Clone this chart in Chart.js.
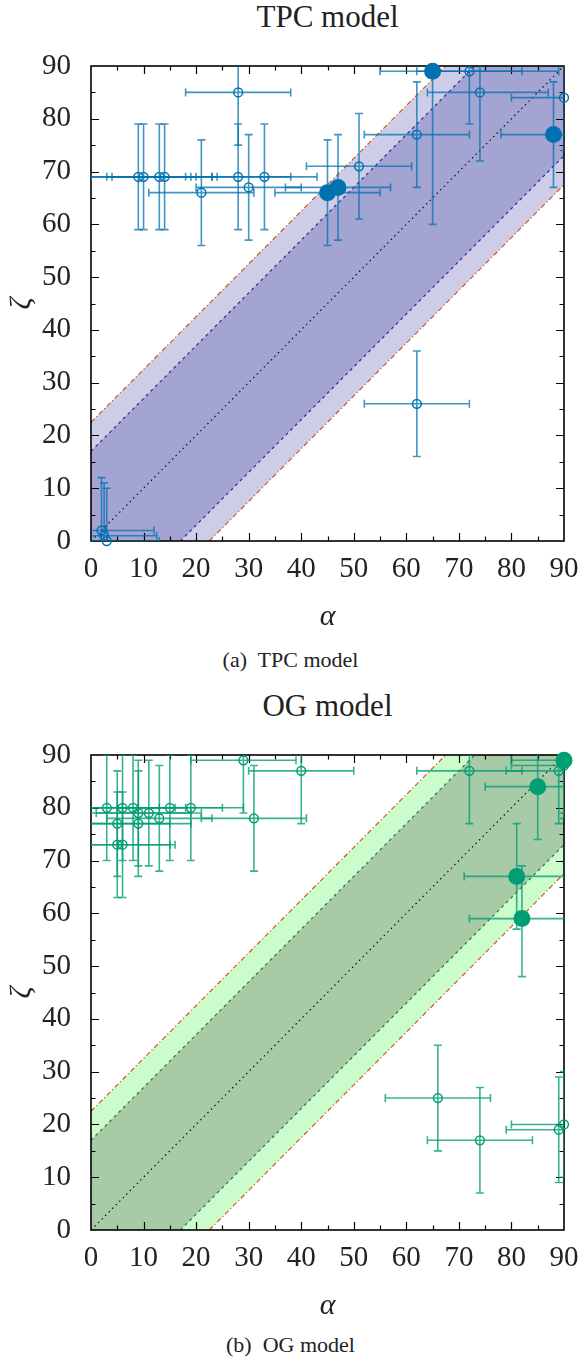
<!DOCTYPE html>
<html>
<head>
<meta charset="utf-8">
<script src="https://cdn.jsdelivr.net/npm/chart.js@4.4.1/dist/chart.umd.min.js"></script>
<style>
  body { margin: 0; background: #fff; width: 581px; height: 1365px; position: relative; overflow: hidden;
         font-family: "Liberation Serif", "DejaVu Serif", serif; color: #222; }
  .panel { position: absolute; left: 0; width: 581px; height: 640px; }
  .panel canvas { position: absolute; left: 0; top: 0; }
  .title { position: absolute; left: 91px; width: 473px; top: 0; text-align: center;
           font-family: "Liberation Serif", serif; font-size: 31px; line-height: 34px; }
  .caption { position: absolute; left: 0; width: 581px; text-align: center;
             font-family: "Liberation Serif", serif; font-size: 22px; line-height: 26px; }
</style>
</head>
<body>
<div class="panel" style="top:0">
  <div class="title">TPC model</div>
  <canvas id="tpcChart" width="581" height="640"></canvas>
</div>
<div class="caption" style="top:647px">(a)&nbsp; TPC model</div>
<div class="panel" style="top:689px">
  <div class="title">OG model</div>
  <canvas id="ogChart" width="581" height="640"></canvas>
</div>
<div class="caption" style="top:1332px">(b)&nbsp; OG model</div>

<script>
// band half-widths (degrees)
const innerBand = 17;
const outerBand = 22.5;

// boundary lines of the bands, as [alpha, zeta] pairs
const outerUpperLine = [[0, 22.5], [67.5, 90]];
const outerLowerLine = [[22.5, 0], [90, 67.5]];
const innerUpperLine = [[0, 17], [73, 90]];
const innerLowerLine = [[17, 0], [90, 73]];
const diagonalLine = [[0, 0], [90, 90]];

// TPC model, open points
const tpcOpenAlpha = [2, 2.5, 3, 9, 10, 13, 14, 28, 33, 28, 21, 30, 51, 62, 72, 74, 90, 62];
const tpcOpenZeta = [2, 1, 0, 69, 69, 69, 69, 69, 69, 85, 66, 67, 71, 77, 89, 85, 84, 26];
const tpcOpenAlphaErr = [10, 10, 10, 10, 10, 10, 10, 10, 10, 10, 10, 10, 10, 10, 10, [10, 13], 10, 10];
const tpcOpenZetaErr = [10, 10, 10, 10, 10, 10, 10, 10, 10, 10, 10, 10, 10, 10, 10, [13, 13], 10, 10];

// TPC model, filled points
const tpcFilledAlpha = [45, 47, 65, 88];
const tpcFilledZeta = [66, 67, 89, 77];
const tpcFilledAlphaErr = [10, 10, [10, 24], 10];
const tpcFilledZetaErr = [10, 10, [29, 10], 10];

// OG model, open points
const ogOpenAlpha = [3, 6, 8, 9, 11, 13, 15, 19, 5, 9, 5, 6, 29, 40, 31, 72, 89, 90, 66, 74, 89, 90];
const ogOpenZeta = [80, 80, 80, 79, 79, 78, 80, 80, 77, 77, 73, 73, 89, 87, 78, 87, 87, 88, 25, 17, 19, 20];
const ogOpenAlphaErr = [10, 10, 10, 10, 10, 10, 10, 10, 10, 10, 10, 10, 10, 10, 10, 10, 10, 10, 10, 10, 10, 10];
const ogOpenZetaErr = [10, 10, 10, 10, 10, 10, 10, 10, 10, 10, 10, 10, 10, 10, 10, 10, 10, 10, 10, 10, 10, 10];

// OG model, filled points
const ogFilledAlpha = [90, 85, 81, 82];
const ogFilledZeta = [89, 84, 67, 59];
const ogFilledAlphaErr = [10, 10, 10, 10];
const ogFilledZetaErr = [10, 10, 10, [11, 10]];

const axisTicks = [0, 10, 20, 30, 40, 50, 60, 70, 80, 90];

const serif = '"Liberation Serif", "DejaVu Serif", serif';
Chart.defaults.font.family = serif;
Chart.defaults.color = '#222';

function toPoints(xs, ys) {
  return xs.map((x, i) => ({ x: x, y: ys[i] }));
}

function pairPoints(list) {
  return list.map(p => ({ x: p[0], y: p[1] }));
}

function spread(e) {
  return Array.isArray(e) ? e : [e, e];
}

function drawFrame(chart) {
  const ctx = chart.ctx;
  const a = chart.chartArea;
  const xs = chart.scales.x;
  const ys = chart.scales.y;
  ctx.save();
  ctx.strokeStyle = '#000';
  ctx.lineWidth = 1.2;
  xs.ticks.forEach(t => {
    if (t.value <= 0 || t.value >= 90) return;
    const px = Math.round(xs.getPixelForValue(t.value)) + 0.5;
    const len = t.value % 10 === 0 ? 8 : 4.5;
    ctx.beginPath();
    ctx.moveTo(px, a.bottom); ctx.lineTo(px, a.bottom - len);
    ctx.moveTo(px, a.top); ctx.lineTo(px, a.top + len);
    ctx.stroke();
  });
  ys.ticks.forEach(t => {
    if (t.value <= 0 || t.value >= 90) return;
    const py = Math.round(ys.getPixelForValue(t.value)) + 0.5;
    const len = t.value % 10 === 0 ? 8 : 4.5;
    ctx.beginPath();
    ctx.moveTo(a.left, py); ctx.lineTo(a.left + len, py);
    ctx.moveTo(a.right, py); ctx.lineTo(a.right - len, py);
    ctx.stroke();
  });
  ctx.lineWidth = 1.6;
  ctx.strokeRect(a.left, a.top, a.right - a.left, a.bottom - a.top);
  ctx.restore();
}

const frameAndErrors = {
  id: 'frameAndErrors',
  beforeDatasetDraw(chart, args) {
    const ds = chart.data.datasets[args.index];
    if (ds.drawFrame) drawFrame(chart);
    if (!ds.alphaErr) return;
    const ctx = chart.ctx;
    const xs = chart.scales.x;
    const ys = chart.scales.y;
    const a = chart.chartArea;
    const cap = 4;
    ctx.save();
    ctx.beginPath();
    ctx.rect(a.left, a.top, a.right - a.left, a.bottom - a.top);
    ctx.clip();
    ctx.strokeStyle = ds.barColor;
    ctx.lineWidth = 1.6;
    ds.data.forEach((p, i) => {
      const [al, ah] = spread(ds.alphaErr[i]);
      const [zl, zh] = spread(ds.zetaErr[i]);
      const x = xs.getPixelForValue(p.x);
      const y = ys.getPixelForValue(p.y);
      const x0 = xs.getPixelForValue(p.x - al);
      const x1 = xs.getPixelForValue(p.x + ah);
      const y0 = ys.getPixelForValue(p.y - zl);
      const y1 = ys.getPixelForValue(p.y + zh);
      ctx.beginPath();
      ctx.moveTo(x0, y); ctx.lineTo(x1, y);
      ctx.moveTo(x0, y - cap); ctx.lineTo(x0, y + cap);
      ctx.moveTo(x1, y - cap); ctx.lineTo(x1, y + cap);
      ctx.moveTo(x, y0); ctx.lineTo(x, y1);
      ctx.moveTo(x - cap, y0); ctx.lineTo(x + cap, y0);
      ctx.moveTo(x - cap, y1); ctx.lineTo(x + cap, y1);
      ctx.stroke();
    });
    ctx.restore();
  }
};

function axis(titleText, isX) {
  return {
    type: 'linear',
    min: 0,
    max: 90,
    afterBuildTicks(scale) {
      const vals = [];
      axisTicks.forEach((v, i) => {
        vals.push(v);
        if (i < axisTicks.length - 1) vals.push((v + axisTicks[i + 1]) / 2);
      });
      scale.ticks = vals.map(v => ({ value: v }));
    },
    ticks: {
      autoSkip: false,
      maxRotation: 0,
      padding: isX ? 11 : 20,
      color: '#222',
      font: { family: serif, size: 29 },
      callback: v => (v % 10 === 0 ? v : '')
    },
    grid: { display: false, drawTicks: false },
    border: { display: false },
    title: {
      display: true,
      text: titleText,
      color: '#222',
      font: { family: serif, size: 30, style: 'italic' },
      padding: isX ? { top: 0, bottom: 5 } : { top: 4, bottom: 0 }
    },
    afterFit(scale) {
      if (isX) {
        scale.height = 99;
        scale.paddingLeft = 0;
        scale.paddingRight = 0;
      } else {
        scale.width = 91;
        scale.paddingTop = 0;
        scale.paddingBottom = 0;
      }
    }
  };
}

function lineSet(points, color, dash, order) {
  return {
    type: 'line',
    data: pairPoints(points),
    borderColor: color,
    borderWidth: 1.2,
    borderDash: dash,
    pointRadius: 0,
    fill: false,
    tension: 0,
    order: order
  };
}

function bandSet(upperPoints, fillColor, target, order) {
  return {
    type: 'line',
    data: pairPoints(upperPoints),
    borderColor: 'rgba(0,0,0,0)',
    borderWidth: 1,
    backgroundColor: fillColor,
    pointRadius: 0,
    fill: target === null ? false : target,
    tension: 0,
    order: order
  };
}

function buildChart(canvasId, opts) {
  const datasets = [
    // 0, 1: outer band
    bandSet([[0, outerBand], [90 - outerBand, 90], [90, 90]], opts.lightBand, 1, 30),
    bandSet([[0, 0], [outerBand, 0], [90, 90 - outerBand]], 'rgba(0,0,0,0)', null, 31),
    // 2, 3: inner band
    bandSet([[0, innerBand], [90 - innerBand, 90], [90, 90]], opts.darkBand, 3, 28),
    bandSet([[0, 0], [innerBand, 0], [90, 90 - innerBand]], 'rgba(0,0,0,0)', null, 29),
    lineSet(outerUpperLine, '#d4561c', [5, 2.5, 1.2, 2.5], 20),
    lineSet(outerLowerLine, '#d4561c', [5, 2.5, 1.2, 2.5], 20),
    lineSet(innerUpperLine, opts.innerLine, [3, 3.5], 19),
    lineSet(innerLowerLine, opts.innerLine, [3, 3.5], 19),
    lineSet(diagonalLine, '#111', [1.5, 3.5], 18),
    {
      type: 'scatter',
      data: toPoints(opts.openAlpha, opts.openZeta),
      alphaErr: opts.openAlphaErr,
      zetaErr: opts.openZetaErr,
      barColor: opts.barColor,
      drawFrame: true,
      pointStyle: 'circle',
      pointRadius: 4.4,
      borderWidth: 1.5,
      borderColor: opts.pointColor,
      backgroundColor: 'rgba(0,0,0,0)',
      clip: false,
      order: 2
    },
    {
      type: 'scatter',
      data: toPoints(opts.filledAlpha, opts.filledZeta),
      alphaErr: opts.filledAlphaErr,
      zetaErr: opts.filledZetaErr,
      barColor: opts.barColor,
      pointStyle: 'circle',
      pointRadius: 8.5,
      borderWidth: 0,
      borderColor: opts.pointColor,
      backgroundColor: opts.pointColor,
      clip: false,
      order: 1
    }
  ];

  return new Chart(document.getElementById(canvasId), {
    type: 'scatter',
    data: { datasets: datasets },
    options: {
      responsive: false,
      animation: false,
      events: [],
      layout: { padding: { top: 66, right: 17, left: 0, bottom: 0 } },
      plugins: {
        legend: { display: false },
        tooltip: { enabled: false },
        title: { display: false }
      },
      scales: {
        x: axis('α', true),
        y: axis('ζ', false)
      }
    },
    plugins: [frameAndErrors]
  });
}

buildChart('tpcChart', {
  lightBand: '#cdcde8',
  darkBand: '#a4a4d2',
  innerLine: '#2a2a9e',
  pointColor: '#0072b2',
  barColor: 'rgba(0,114,178,0.75)',
  openAlpha: tpcOpenAlpha,
  openZeta: tpcOpenZeta,
  openAlphaErr: tpcOpenAlphaErr,
  openZetaErr: tpcOpenZetaErr,
  filledAlpha: tpcFilledAlpha,
  filledZeta: tpcFilledZeta,
  filledAlphaErr: tpcFilledAlphaErr,
  filledZetaErr: tpcFilledZetaErr
});

buildChart('ogChart', {
  lightBand: '#ccfccc',
  darkBand: '#a7caa7',
  innerLine: '#237a3a',
  pointColor: '#009e73',
  barColor: 'rgba(0,158,115,0.78)',
  openAlpha: ogOpenAlpha,
  openZeta: ogOpenZeta,
  openAlphaErr: ogOpenAlphaErr,
  openZetaErr: ogOpenZetaErr,
  filledAlpha: ogFilledAlpha,
  filledZeta: ogFilledZeta,
  filledAlphaErr: ogFilledAlphaErr,
  filledZetaErr: ogFilledZetaErr
});
</script>
</body>
</html>
